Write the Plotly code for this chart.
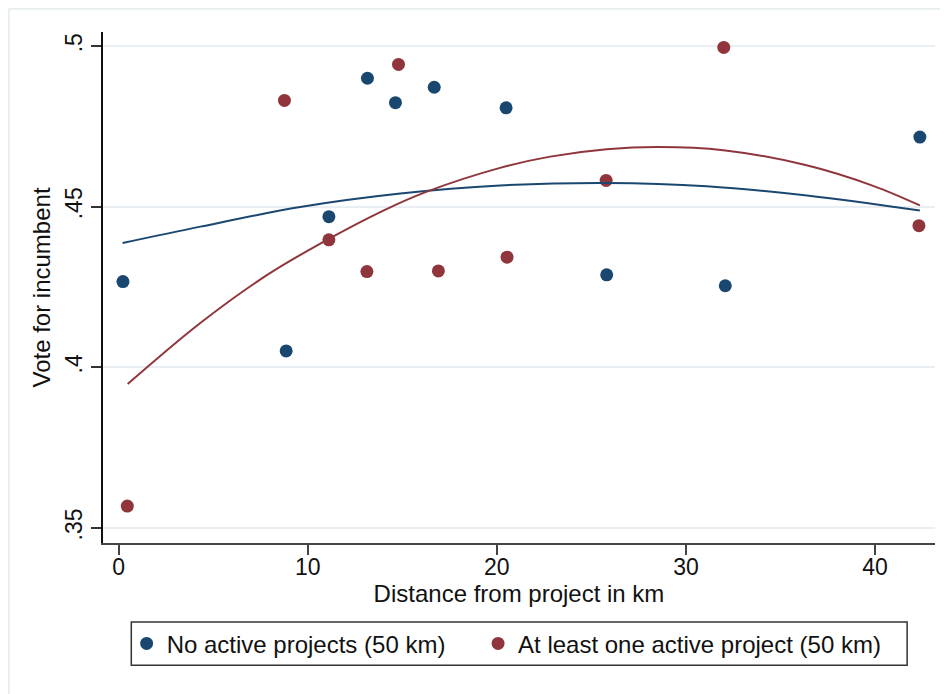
import plotly.graph_objects as go

# Data
no_active_x = [0.23, 8.86, 11.12, 13.16, 14.64, 16.69, 20.49, 25.81, 32.08, 42.37]
no_active_y = [0.4267, 0.4051, 0.4469, 0.4900, 0.4824, 0.4872, 0.4808, 0.4288, 0.4254, 0.4717]
active_x = [0.46, 8.77, 11.12, 13.13, 14.80, 16.91, 20.54, 25.78, 32.00, 42.32]
active_y = [0.3568, 0.4831, 0.4397, 0.4298, 0.4943, 0.4300, 0.4343, 0.4582, 0.4996, 0.4441]

# Quadratic-fit curves
no_active_fit_x = [0.21, 4.32, 9.6, 14.9, 20.17, 25.81, 31.1, 36.4, 42.37]
no_active_fit_y = [0.4387, 0.4438, 0.4499, 0.4541, 0.4566, 0.4574, 0.4564, 0.4535, 0.4488]
active_fit_x = [0.48, 4.32, 7.84, 11.12, 14.0, 16.3, 20.17, 22.82, 25.81, 28.54, 31.98, 36.38, 39.9, 42.37]
active_fit_y = [0.3948, 0.4138, 0.4287, 0.4400, 0.4488, 0.4547, 0.4621, 0.4656, 0.4679, 0.4686, 0.4676,
                0.4629, 0.4565, 0.4504]

series_names = ["No active projects (50 km)", "At least one active project (50 km)"]
y_tickvals = [0.35, 0.40, 0.45, 0.50]
y_ticktext = [".35", ".4", ".45", ".5"]
x_tickvals = [0, 10, 20, 30, 40]

BLUE = "#1a476f"
RED = "#90353b"
FONT = "Liberation Sans, Arial, sans-serif"

fig = go.Figure()

fig.add_trace(go.Scatter(x=no_active_x, y=no_active_y, mode="markers", name=series_names[0],
                         marker=dict(color=BLUE, size=13), legend="legend"))
fig.add_trace(go.Scatter(x=active_x, y=active_y, mode="markers", name=series_names[1],
                         marker=dict(color=RED, size=13), legend="legend2"))
fig.add_trace(go.Scatter(x=no_active_fit_x, y=no_active_fit_y, mode="lines",
                         line=dict(color=BLUE, width=2, shape="spline", smoothing=1.0), showlegend=False))
fig.add_trace(go.Scatter(x=active_fit_x, y=active_fit_y, mode="lines",
                         line=dict(color=RED, width=2, shape="spline", smoothing=1.0), showlegend=False))

legend_common = dict(orientation="h", xanchor="left", y=-0.1533, yanchor="top",
                     borderwidth=0, font=dict(family=FONT, size=24, color="#111"),
                     itemwidth=30, bgcolor="rgba(0,0,0,0)")

fig.update_layout(
    width=940, height=686,
    margin=dict(l=95, r=13, t=24, b=151),
    paper_bgcolor="white", plot_bgcolor="white",
    font=dict(family=FONT, size=22, color="#111"),
    showlegend=True,
    legend=dict(x=0.0284, **legend_common),
    legend2=dict(x=0.4508, **legend_common),
    xaxis=dict(range=[-0.825, 43.17], tickvals=x_tickvals, showgrid=False, zeroline=False,
               showline=True, linecolor="#444", linewidth=2, ticks="outside", ticklen=10,
               tickcolor="#444", tickwidth=1.5, tickfont=dict(size=23), ticklabelstandoff=-8,
               title=dict(text="Distance from project in km", standoff=6, font=dict(size=24))),
    yaxis=dict(range=[0.3453, 0.5044], tickvals=y_tickvals, ticktext=y_ticktext,
               tickangle=-90, showgrid=True, gridcolor="#e8eef1", gridwidth=2, zeroline=False,
               showline=True, linecolor="#111", linewidth=2, ticks="outside", ticklen=10,
               tickcolor="#333", tickwidth=1.5, tickfont=dict(size=23),
               title=dict(text="Vote for incumbent", standoff=3, font=dict(size=24))),
)

# legend frame
fig.add_shape(type="rect", xref="paper", yref="paper", x0=0.0340, x1=0.9665, y0=-0.1546, y1=-0.2393,
              line=dict(color="#333", width=1.5), fillcolor="rgba(0,0,0,0)")
# outer light frame (top and left visible)
fig.add_shape(type="line", xref="paper", yref="paper", x0=-0.1132, x1=1.02, y0=1.0454, y1=1.0454,
              line=dict(color="#e6eef0", width=2))
fig.add_shape(type="line", xref="paper", yref="paper", x0=-0.1132, x1=-0.1132, y0=1.0454, y1=-0.31,
              line=dict(color="#e6eef0", width=2))

fig.write_html("out.html")
